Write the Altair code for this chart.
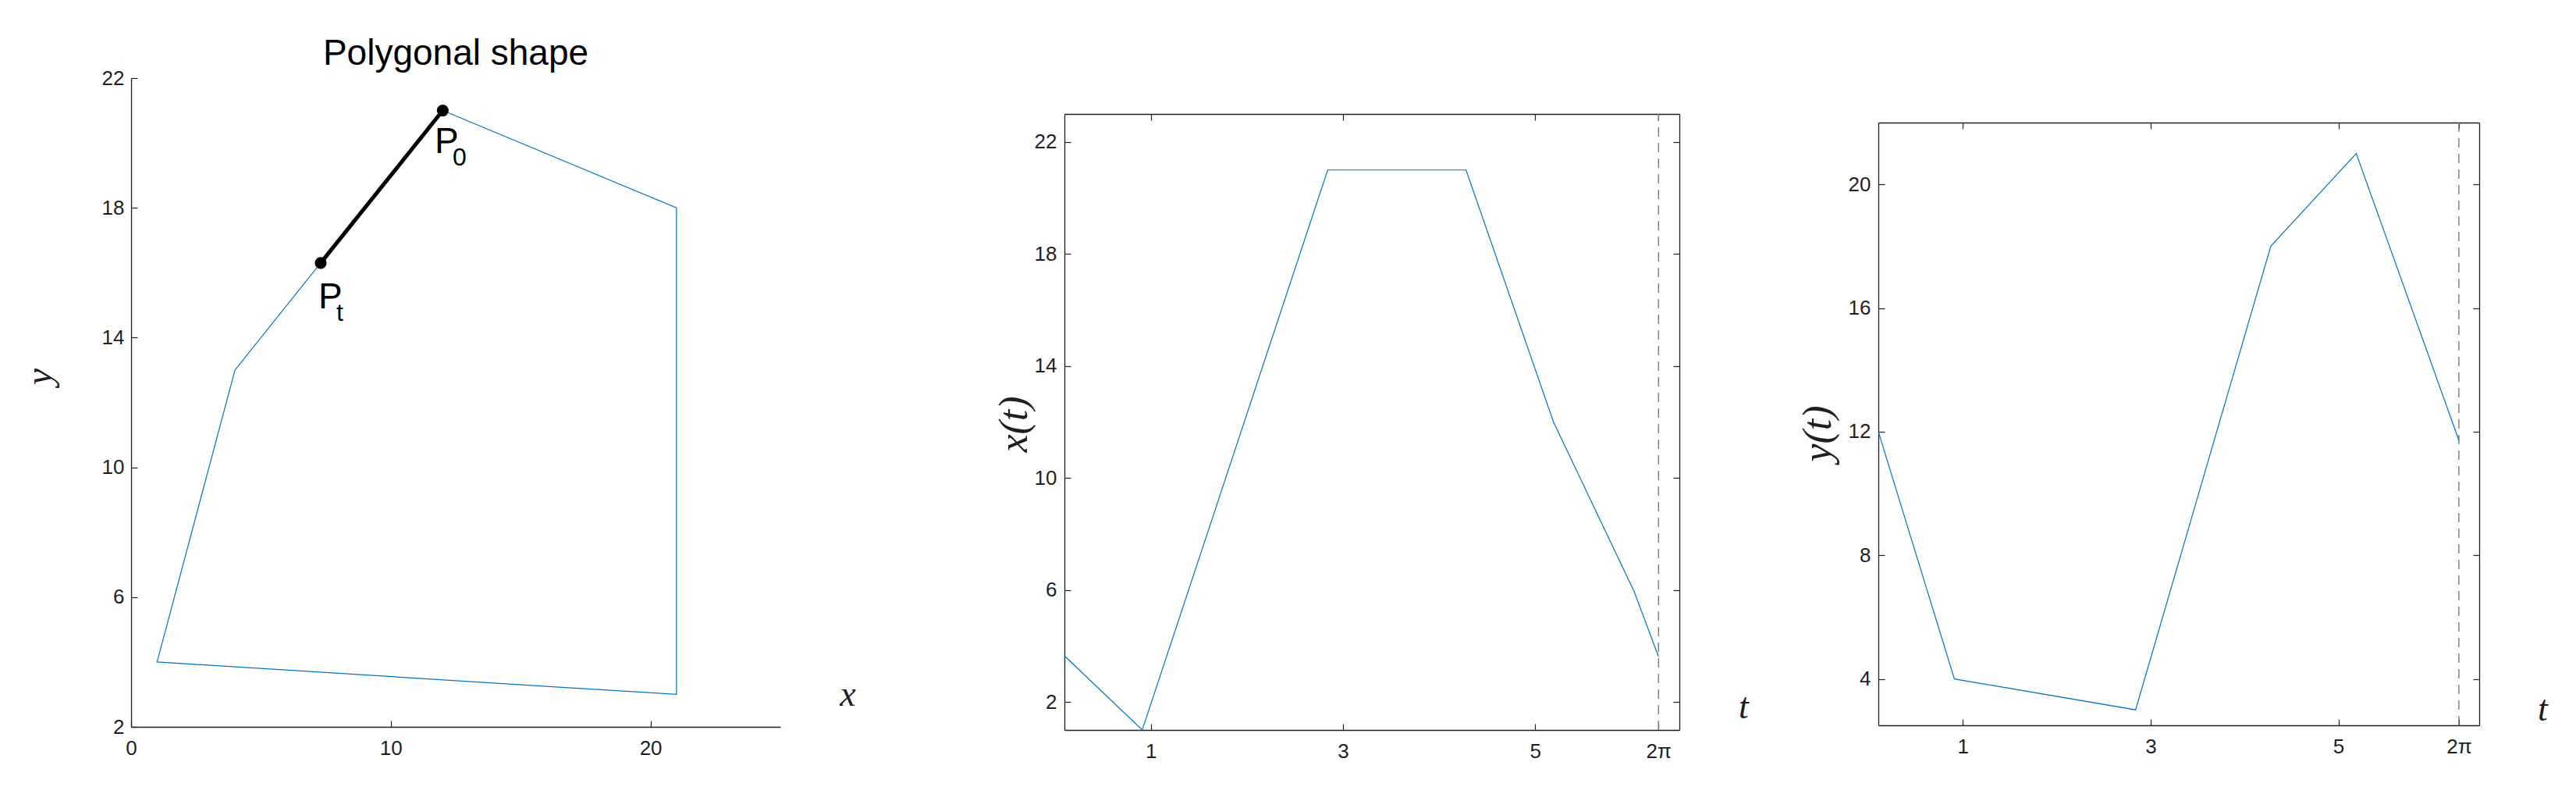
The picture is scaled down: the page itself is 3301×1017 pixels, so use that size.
import math
import altair as alt
import pandas as pd

TWO_PI = 2 * math.pi

# ---------------- data ----------------
# panel 1: polygon (closed), segment P_t -> P_0, labels
poly_x = [12, 21, 21, 1, 4, 12]
poly_y = [21, 18, 3, 4, 13, 21]
seg_x = [7.3, 12.0]
seg_y = [16.3, 21.0]
lab_x = [7.21, 11.69]
lab_y = [14.9, 19.7]
lab_main = ["P", "P"]
lab_sub = ["t", "0"]

# panel 2: x(t)
xt_t = [0.1, 0.91, 2.84, 4.28, 5.19, 6.03, TWO_PI]
xt_v = [3.65, 1.0, 21.0, 21.0, 12.0, 5.94, 3.62]
# panel 3: y(t)
yt_t = [0.1, 0.91, 2.84, 4.28, 5.19, TWO_PI]
yt_v = [12.0, 4.0, 3.0, 18.0, 21.0, 11.72]

period = [TWO_PI]

p1_xdomain = [0, 25]
p1_ydomain = [2, 22]
t_domain = [0.1, 6.5]
p2_ydomain = [1, 23]
p3_ydomain = [2.5, 22]

p1_xticks = [0, 10, 20]
p1_yticks = [2, 6, 10, 14, 18, 22]
t_ticks = [1, 3, 5, TWO_PI]
p2_yticks = [2, 6, 10, 14, 18, 22]
p3_yticks = [4, 8, 12, 16, 20]

# ---------------- styles / layout ----------------
AX = "#1f1f1f"
BLUE = "#0072BD"
SANS = "Liberation Sans"
MATH = "Liberation Serif"
TICK = 8
PI_EXPR = "datum.value > 6 ? '2\u03c0' : datum.label"


def main_axis(orient, values, title, tx, ty, angle, baseline, pad, expr=None, tsize=46):
    kw = dict(
        orient=orient, values=values, ticks=False, tickSize=0,
        domain=True, domainColor=AX, domainWidth=1.3,
        labels=True, labelFont=SANS, labelFontSize=26, labelColor=AX,
        labelPadding=pad, labelFlush=False, labelOverlap=False, grid=False,
        title=title, titleFont=MATH, titleFontStyle="italic",
        titleFontWeight="normal", titleFontSize=tsize, titleColor=AX,
        titleX=tx, titleY=ty, titleAngle=angle, titleAlign="center",
        titleBaseline=baseline,
    )
    if expr:
        kw["labelExpr"] = expr
    return alt.Axis(**kw)


def tick_axis(orient, values, offset=-TICK):
    return alt.Axis(
        orient=orient, values=values, ticks=True, tickSize=TICK,
        tickColor=AX, tickWidth=1.2, domain=False, labels=False,
        grid=False, title=None, offset=offset,
    )


def frame_axis(orient, values, offset=0):
    return alt.Axis(
        orient=orient, values=values, ticks=False, tickSize=0, domain=True,
        domainColor=AX, domainWidth=1.3, labels=False, grid=False,
        title=None, offset=offset,
    )


# ---------------- panel 1 ----------------
poly_df = pd.DataFrame({"x": poly_x, "y": poly_y, "i": list(range(len(poly_x)))})
seg_df = pd.DataFrame({"x": seg_x, "y": seg_y})
lab_df = pd.DataFrame({"x": lab_x, "y": lab_y, "m": lab_main, "s": lab_sub})

xs1 = alt.Scale(domain=p1_xdomain, nice=False, zero=False)
ys1 = alt.Scale(domain=p1_ydomain, nice=False, zero=False)

p1_line = alt.Chart(poly_df).mark_line(color=BLUE, strokeWidth=1.2).encode(
    x=alt.X("x:Q", scale=xs1,
            axis=main_axis("bottom", p1_xticks, "x", 918, -28, 0, "alphabetic", 14)),
    y=alt.Y("y:Q", scale=ys1,
            axis=main_axis("left", p1_yticks, "y", -117, 382, 270, "middle", 9, tsize=48)),
    order="i:O",
)
p1_ticks = alt.Chart(poly_df).mark_line(opacity=0).encode(
    x=alt.X("x:Q", scale=xs1, axis=tick_axis("bottom", p1_xticks)),
    y=alt.Y("y:Q", scale=ys1, axis=tick_axis("left", p1_yticks)),
    order="i:O",
)
p1_seg = alt.Chart(seg_df).mark_line(color="black", strokeWidth=5).encode(
    x=alt.X("x:Q", scale=xs1, axis=None),
    y=alt.Y("y:Q", scale=ys1, axis=None),
)
p1_pts = alt.Chart(seg_df).mark_circle(color="black", opacity=1, size=230).encode(
    x=alt.X("x:Q", scale=xs1, axis=None),
    y=alt.Y("y:Q", scale=ys1, axis=None),
)
p1_lab = alt.Chart(lab_df).mark_text(
    font=SANS, fontSize=46, color="black", align="left", baseline="alphabetic"
).encode(
    x=alt.X("x:Q", scale=xs1, axis=None),
    y=alt.Y("y:Q", scale=ys1, axis=None),
    text="m:N",
)
p1_sub = alt.Chart(lab_df).mark_text(
    font=SANS, fontSize=32, color="black", align="left", baseline="alphabetic",
    dx=23, dy=16,
).encode(
    x=alt.X("x:Q", scale=xs1, axis=None),
    y=alt.Y("y:Q", scale=ys1, axis=None),
    text="s:N",
)

panel1 = alt.layer(p1_line, p1_ticks, p1_seg, p1_pts, p1_lab, p1_sub).resolve_axis(
    x="independent", y="independent"
).properties(
    width=832, height=831,
    title=alt.Title("Polygonal shape", font=SANS, fontSize=46, fontWeight="normal",
                    color="black", anchor="middle", frame="group",
                    baseline="bottom", offset=-52),
)


# ---------------- panels 2 and 3 ----------------
def t_panel(tvals, vvals, ydomain, yticks, ytitle, ytx, yty, ttx, tty, w, h, top):
    df = pd.DataFrame({"t": tvals, "v": vvals})
    per = pd.DataFrame({"t": period, "lo": [ydomain[0]], "hi": [ydomain[1]]})
    xs = alt.Scale(domain=t_domain, nice=False, zero=False)
    ys = alt.Scale(domain=ydomain, nice=False, zero=False, range=[h, top])
    line = alt.Chart(df).mark_line(color=BLUE, strokeWidth=1.2).encode(
        x=alt.X("t:Q", scale=xs,
                axis=main_axis("bottom", t_ticks, "t", ttx, tty, 0, "alphabetic", 14, PI_EXPR)),
        y=alt.Y("v:Q", scale=ys,
                axis=main_axis("left", yticks, ytitle, ytx, yty, 270, "middle", 10, tsize=52)),
    )
    ticks_a = alt.Chart(df).mark_line(opacity=0).encode(
        x=alt.X("t:Q", scale=xs, axis=tick_axis("bottom", t_ticks)),
        y=alt.Y("v:Q", scale=ys, axis=tick_axis("left", yticks)),
    )
    ticks_b = alt.Chart(df).mark_line(opacity=0).encode(
        x=alt.X("t:Q", scale=xs, axis=tick_axis("top", t_ticks, -(top + TICK))),
        y=alt.Y("v:Q", scale=ys, axis=tick_axis("right", yticks)),
    )
    frame = alt.Chart(df).mark_line(opacity=0).encode(
        x=alt.X("t:Q", scale=xs, axis=frame_axis("top", t_ticks, -top)),
        y=alt.Y("v:Q", scale=ys, axis=frame_axis("right", yticks, 0)),
    )
    rule = alt.Chart(per).mark_rule(color="#7a7a7a", strokeWidth=1.4,
                                    strokeDash=[12, 8]).encode(
        x=alt.X("t:Q", scale=xs, axis=None),
        y=alt.Y("lo:Q", scale=ys, axis=None),
        y2="hi:Q",
    )
    return alt.layer(rule, line, ticks_a, ticks_b, frame).resolve_axis(
        x="independent", y="independent"
    ).properties(width=w, height=h)


# group tops are all aligned with panel 1's top; the t-panels start lower
panel2 = t_panel(xt_t, xt_v, p2_ydomain, p2_yticks, "x(t)", -65, 443, 870, -16, 788, 835, 46)
panel3 = t_panel(yt_t, yt_v, p3_ydomain, p3_yticks, "y(t)", -78, 455, 851, -7, 770, 829, 57)

spacer_df = pd.DataFrame({"s": [0]})
gap_a = alt.Chart(spacer_df).mark_point(opacity=0).properties(width=364, height=10)
gap_b = alt.Chart(spacer_df).mark_point(opacity=0).properties(width=255, height=10)

chart = alt.hconcat(
    panel1, gap_a, panel2, gap_b, panel3, spacing=0, bounds="flush",
).properties(
    padding={"left": 19, "top": 38, "right": 5, "bottom": 5},
    background="white",
).configure_view(stroke=None, strokeWidth=0)

chart.save("out.html", embed_options={"renderer": "svg", "actions": False})
